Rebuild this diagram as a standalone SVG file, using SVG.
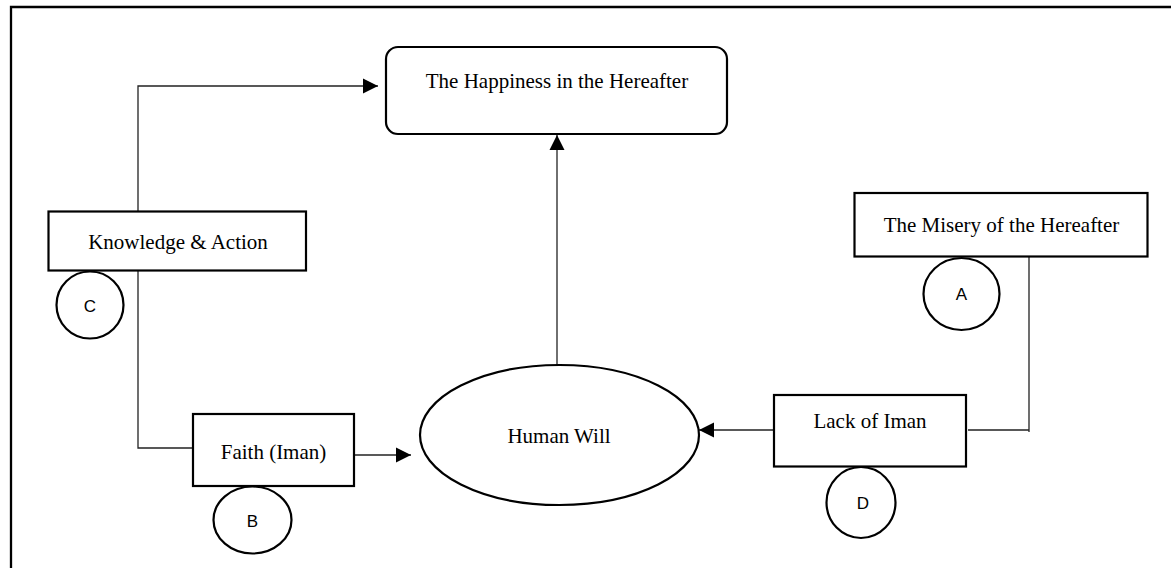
<svg xmlns="http://www.w3.org/2000/svg" width="1171" height="568" viewBox="0 0 1171 568">
<style>
.box{fill:#fff;stroke:#000;stroke-width:2.2}
.lbl{font-family:"Liberation Serif","Times New Roman",serif;font-size:21px;fill:#000;text-anchor:middle}
.tag{font-family:"Liberation Sans",Arial,sans-serif;font-size:17px;fill:#000;text-anchor:middle}
.conn{fill:none;stroke:#222;stroke-width:1.3}
.frame{fill:none;stroke:#000;stroke-width:2.3}
</style>
<defs>
<marker id="arr" markerUnits="userSpaceOnUse" markerWidth="16" markerHeight="16" viewBox="0 0 16 16" refX="15" refY="8" orient="auto">
<path d="M0,0.5 L15,8 L0,15.5 Z" fill="#000"/>
</marker>
</defs>
<rect width="1171" height="568" fill="#fff"/>
<path class="frame" d="M11,568 V7 H1171"/>
<g id="connectors">
<path class="conn" d="M138,211 V86 H378" marker-end="url(#arr)"/>
<path class="conn" d="M138,271 V448 H193"/>
<path class="conn" d="M354,455 H411" marker-end="url(#arr)"/>
<path class="conn" d="M557,365 V135" marker-end="url(#arr)"/>
<path class="conn" d="M774,430 H699" marker-end="url(#arr)"/>
<path class="conn" d="M1029,257 V432 M968,430 H1029"/>
</g>
<g id="happiness">
<rect class="box" x="386" y="47" width="341" height="87" rx="12"/>
<text class="lbl" x="557" y="88">The Happiness in the Hereafter</text>
</g>
<g id="knowledge">
<rect class="box" x="48.5" y="211.5" width="257.5" height="59"/>
<text class="lbl" x="178" y="249">Knowledge &amp; Action</text>
</g>
<g id="circleC">
<circle class="box" cx="90" cy="305" r="33.5"/>
<text class="tag" x="90" y="312">C</text>
</g>
<g id="faith">
<rect class="box" x="193" y="414" width="161" height="72"/>
<text class="lbl" x="273.5" y="459">Faith (Iman)</text>
</g>
<g id="circleB">
<ellipse class="box" cx="252.5" cy="520" rx="39" ry="33.5"/>
<text class="tag" x="252.5" y="527">B</text>
</g>
<g id="humanWill">
<ellipse class="box" cx="559.5" cy="435" rx="139.5" ry="70"/>
<text class="lbl" x="559" y="443">Human Will</text>
</g>
<g id="misery">
<rect class="box" x="854.5" y="193" width="293" height="63.5"/>
<text class="lbl" x="1001.5" y="232">The Misery of the Hereafter</text>
</g>
<g id="circleA">
<ellipse class="box" cx="961.5" cy="294" rx="38" ry="36"/>
<text class="tag" x="961.5" y="300">A</text>
</g>
<g id="lack">
<rect class="box" x="774" y="395" width="192" height="71.5"/>
<text class="lbl" x="870" y="428">Lack of Iman</text>
</g>
<g id="circleD">
<ellipse class="box" cx="861" cy="502.5" rx="34.5" ry="35.5"/>
<text class="tag" x="863" y="509">D</text>
</g>
</svg>
